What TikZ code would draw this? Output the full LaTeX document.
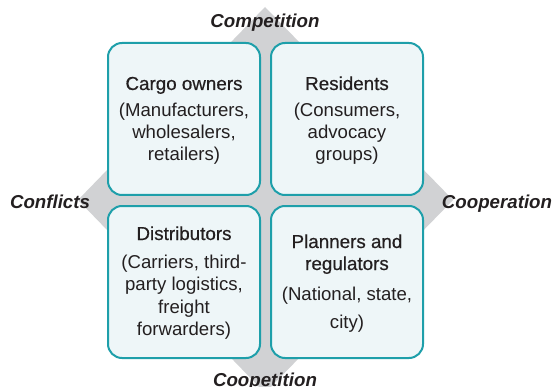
\documentclass[tikz,border=0pt]{standalone}
\usepackage{fontspec}
\setmainfont{Liberation Sans}
\newfontfamily\medfont[FakeBold=0.5]{Liberation Sans}
\definecolor{tealline}{HTML}{1E9FAA}
\definecolor{boxfill}{HTML}{EEF6F8}
\definecolor{diagray}{HTML}{D1D2D4}
\definecolor{ink}{HTML}{231F20}
\begin{document}
\begin{tikzpicture}[x=1pt,y=-1pt,
  box/.style={draw=tealline, fill=boxfill, line width=2pt, rounded corners=14pt,
    minimum width=152pt, minimum height=152pt, inner sep=0pt},
  ttl/.style={anchor=base, font=\medfont\fontsize{18.8}{22}\selectfont, text=ink, inner sep=0pt},
  bodytxt/.style={anchor=base, font=\fontsize{18.6}{22}\selectfont, text=ink, inner sep=0pt},
  rel/.style={anchor=base, font=\bfseries\itshape\fontsize{18.7}{22}\selectfont, text=ink, inner sep=0pt}]
\useasboundingbox (0,0) rectangle (553,387);
\clip (0,0) rectangle (553,387);
% diamond
\coordinate (dt) at (265,7);
\coordinate (dr) at (453,200);
\coordinate (db) at (265,393);
\coordinate (dl) at (78,200);
\fill[diagray] (dt) -- (dr) -- (db) -- (dl) -- cycle;
% boxes
\node[box] (tl) at (184,119) {};
\node[box] (tr) at (347,119) {};
\node[box] (bl) at (184,282) {};
\node[box] (br) at (347,282) {};
% top-left
\node[ttl] (tlt) at (184,90) {Cargo owners};
\node[bodytxt] (tl1) at (184,116.7) {(Manufacturers,};
\node[bodytxt] (tl2) at (184,138.7) {wholesalers,};
\node[bodytxt] (tl3) at (184,160.7) {retailers)};
% top-right
\node[ttl] (trt) at (347,90) {Residents};
\node[bodytxt] (tr1) at (347,116.7) {(Consumers,};
\node[bodytxt] (tr2) at (347,138.7) {advocacy};
\node[bodytxt] (tr3) at (347,160.7) {groups)};
% bottom-left
\node[ttl] (blt) at (184,240) {Distributors};
\node[bodytxt] (bl1) at (184,268) {(Carriers, third-};
\node[bodytxt] (bl2) at (184,290.5) {party logistics,};
\node[bodytxt] (bl3) at (184,313) {freight};
\node[bodytxt] (bl4) at (184,335) {forwarders)};
% bottom-right
\node[ttl] (brt) at (347,248) {Planners and};
\node[ttl] (brt2) at (347,270) {regulators};
\node[bodytxt] (br1) at (347,300) {(National, state,};
\node[bodytxt] (br2) at (347,328) {city)};
% relation labels
\node[rel] (comp) at (265,28) {Competition};
\node[rel] (conf) at (50,208) {Conflicts};
\node[rel] (coop) at (497,208) {Cooperation};
\node[rel] (coopet) at (265,386) {Coopetition};
\end{tikzpicture}
\end{document}
